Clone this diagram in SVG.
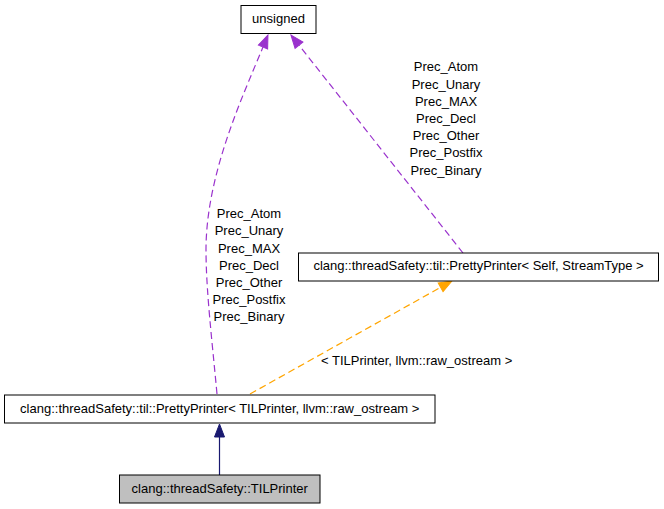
<svg xmlns="http://www.w3.org/2000/svg" width="664" height="509" viewBox="0 0 664 509">
<style>
  text { font-family: "Liberation Sans", Arial, sans-serif; font-size: 13px; fill: #000; }
  .c { text-anchor: middle; }
  .box { fill: #fff; stroke: #000; stroke-width: 1; }
  .cur { fill: #bfbfbf; stroke: #000; stroke-width: 1; }
  .edge { fill: none; stroke-width: 1.2; }
  .purple { stroke: #9a32cd; stroke-dasharray: 7,4; }
  .orange { stroke: #ffa500; stroke-dasharray: 7,4; }
  .navy { stroke: #191970; }
</style>
<defs>
  <marker id="ahPurple" markerUnits="userSpaceOnUse" markerWidth="16" markerHeight="12" refX="0" refY="6" orient="auto" viewBox="0 0 16 12" overflow="visible">
    <path d="M0,1 L13,6 L0,11 Z" fill="#9a32cd" stroke="#9a32cd" stroke-width="1"/>
  </marker>
  <marker id="ahOrange" markerUnits="userSpaceOnUse" markerWidth="16" markerHeight="12" refX="0" refY="6" orient="auto" viewBox="0 0 16 12" overflow="visible">
    <path d="M0,1 L13,6 L0,11 Z" fill="#ffa500" stroke="#ffa500" stroke-width="1"/>
  </marker>
  <marker id="ahNavy" markerUnits="userSpaceOnUse" markerWidth="16" markerHeight="12" refX="0" refY="6" orient="auto" viewBox="0 0 16 12" overflow="visible">
    <path d="M0,1 L13,6 L0,11 Z" fill="#191970" stroke="#191970" stroke-width="1"/>
  </marker>
</defs>

<g id="connectors">
  <path class="edge navy" d="M219.5,475 L219.5,437" marker-end="url(#ahNavy)"/>
  <path class="edge orange" d="M250,394 L440.6,287.3" marker-end="url(#ahOrange)"/>
  <path class="edge purple" d="M217,394 C212,340 206,290 206,250 C206,175 242,98 263,47" marker-end="url(#ahPurple)"/>
  <path class="edge purple" d="M463,253 L299,45.2" marker-end="url(#ahPurple)"/>
  <g id="labels-left">
    <text class="c" x="249" y="218.3">Prec_Atom</text>
    <text class="c" x="249" y="235.4">Prec_Unary</text>
    <text class="c" x="249" y="252.6">Prec_MAX</text>
    <text class="c" x="249" y="269.7">Prec_Decl</text>
    <text class="c" x="249" y="286.8">Prec_Other</text>
    <text class="c" x="249" y="304">Prec_Postfix</text>
    <text class="c" x="249" y="321.1">Prec_Binary</text>
  </g>
  <g id="labels-right">
    <text class="c" x="446" y="71.3">Prec_Atom</text>
    <text class="c" x="446" y="88.5">Prec_Unary</text>
    <text class="c" x="446" y="105.7">Prec_MAX</text>
    <text class="c" x="446" y="122.9">Prec_Decl</text>
    <text class="c" x="446" y="140.1">Prec_Other</text>
    <text class="c" x="446" y="157.3">Prec_Postfix</text>
    <text class="c" x="446" y="174.5">Prec_Binary</text>
  </g>
  <text x="321" y="365">&lt; TILPrinter, llvm::raw_ostream &gt;</text>
</g>

<g id="node-unsigned">
  <rect class="box" x="241" y="5.5" width="75" height="28"/>
  <text class="c" x="278.5" y="23">unsigned</text>
</g>
<g id="node-prettyprinter-template">
  <rect class="box" x="298.5" y="253" width="360" height="28"/>
  <text class="c" x="478.5" y="270">clang::threadSafety::til::PrettyPrinter&lt; Self, StreamType &gt;</text>
</g>
<g id="node-prettyprinter-til">
  <rect class="box" x="4.5" y="395" width="430.5" height="28"/>
  <text class="c" x="219.75" y="413">clang::threadSafety::til::PrettyPrinter&lt; TILPrinter, llvm::raw_ostream &gt;</text>
</g>
<g id="node-tilprinter">
  <rect class="cur" x="119.5" y="475" width="200.5" height="28"/>
  <text class="c" x="219.75" y="493">clang::threadSafety::TILPrinter</text>
</g>
</svg>
